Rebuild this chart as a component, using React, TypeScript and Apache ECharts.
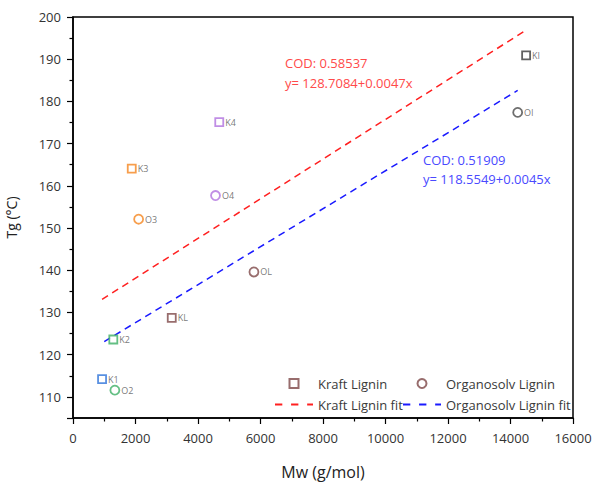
import React, { useEffect, useRef } from "react";
import * as echarts from "echarts";

// Kraft lignin samples
const kraftNames = ["K1", "K2", "K3", "K4", "KL", "KI"];
const kraftMw = [930, 1290, 1880, 4680, 3160, 14500];
const kraftTg = [114.2, 123.6, 164.1, 175.1, 128.7, 190.9];
const kraftColors = ["#2f74d9", "#3daf65", "#f5861f", "#b072df", "#7e4848", "#3a3a3a"];

// Organosolv lignin samples
const orgNames = ["O2", "O3", "O4", "OL", "OI"];
const orgMw = [1340, 2100, 4560, 5790, 14230];
const orgTg = [111.6, 152.1, 157.7, 139.6, 177.4];
const orgColors = ["#3daf65", "#f5861f", "#b072df", "#7e4848", "#4a4a4a"];

// Fit lines (end points)
const kraftFitMw = [930, 14500];
const kraftFitTg = [133.1, 196.9];
const orgFitMw = [1000, 14230];
const orgFitTg = [123.1, 182.6];

const yMajorTicks = [105, 110, 120, 130, 140, 150, 160, 170, 180, 190, 200];
const yLabels = [110, 120, 130, 140, 150, 160, 170, 180, 190, 200];
const yMinorTicks = [115, 125, 135, 145, 155, 165, 175, 185, 195];

const FONT = "Open Sans";

export default function App() {
  const ref = useRef<HTMLDivElement>(null);
  useEffect(() => {
    document.body.style.margin = "0";
    if (!ref.current) return;
    const chart = echarts.init(ref.current, undefined, { renderer: "svg" });
    const labelStyle = {
      show: true,
      position: "right",
      distance: 1,
      formatter: "{b}",
      fontSize: 9,
      color: "#555",
      fontFamily: FONT,
    };
    const squareIcon = "path://M0,0H10V10H0Z";
    const dashIcon = "path://M0,0h7.5v2h-7.5zM16.5,0h7.5v2h-7.5zM33,0h6v2h-6z";
    chart.setOption({
      animation: false,
      grid: {
        left: 73,
        right: 24,
        top: 17,
        bottom: 66,
        show: true,
        borderColor: "#000",
        borderWidth: 1.5,
        outerBoundsMode: "none",
        containLabel: false,
      },
      xAxis: {
        type: "value",
        min: 0,
        max: 16000,
        interval: 2000,
        name: "Mw (g/mol)",
        nameLocation: "middle",
        nameGap: 46,
        nameTextStyle: { fontSize: 16, color: "#222", fontFamily: FONT },
        axisLine: { show: true, lineStyle: { color: "#000", width: 1.5 } },
        axisTick: { show: true, length: 6, lineStyle: { color: "#000", width: 1.2 } },
        minorTick: { show: true, splitNumber: 2, length: 3.5, lineStyle: { color: "#000", width: 1.2 } },
        axisLabel: {
          fontSize: 13,
          color: "#333",
          margin: 13,
          fontFamily: FONT,
          formatter: (v: number) => String(v),
        },
        splitLine: { show: false },
      },
      yAxis: [
        {
          type: "value",
          min: 105,
          max: 200,
          name: "Tg (°C)",
          nameLocation: "middle",
          nameGap: 55,
          nameTextStyle: { fontSize: 14, color: "#222", fontFamily: FONT },
          axisLine: { show: true, lineStyle: { color: "#000", width: 1.5 } },
          axisTick: { show: true, length: 6, customValues: yMajorTicks, lineStyle: { color: "#000", width: 1.2 } },
          axisLabel: { fontSize: 13, color: "#333", margin: 12, customValues: yLabels, fontFamily: FONT },
          splitLine: { show: false },
        },
        {
          type: "value",
          min: 105,
          max: 200,
          position: "left",
          axisLine: { show: false },
          axisTick: { show: true, length: 3.5, customValues: yMinorTicks, lineStyle: { color: "#000", width: 1.2 } },
          axisLabel: { show: false },
          splitLine: { show: false },
        },
      ],
      legend: [
        {
          left: 275,
          top: 377,
          orient: "vertical",
          padding: 0,
          itemWidth: 38,
          itemHeight: 9,
          itemGap: 8,
          textStyle: { fontSize: 13, color: "#3a3a3a", fontFamily: FONT },
          data: [
            { name: "Kraft Lignin", icon: squareIcon },
            { name: "Kraft Lignin fit", icon: dashIcon },
          ],
        },
        {
          left: 403,
          top: 377,
          orient: "vertical",
          padding: 0,
          itemWidth: 38,
          itemHeight: 9,
          itemGap: 8,
          textStyle: { fontSize: 13, color: "#3a3a3a", fontFamily: FONT },
          data: [
            { name: "Organosolv Lignin" },
            { name: "Organosolv Lignin fit", icon: dashIcon },
          ],
        },
      ],
      graphic: [
        {
          type: "text",
          left: 285,
          top: 53,
          style: {
            text: "COD: 0.58537\ny= 128.7084+0.0047x",
            fill: "#ff4a4a",
            fontSize: 13,
            lineHeight: 20,
            fontFamily: FONT,
          },
        },
        {
          type: "text",
          left: 423,
          top: 150,
          style: {
            text: "COD: 0.51909\ny= 118.5549+0.0045x",
            fill: "#4a4aff",
            fontSize: 13,
            lineHeight: 19,
            fontFamily: FONT,
          },
        },
      ],
      series: [
        {
          name: "Kraft Lignin fit",
          type: "line",
          symbol: "none",
          data: kraftFitMw.map((x, i) => [x, kraftFitTg[i]]),
          lineStyle: { color: "#ff2020", width: 1.5, type: [7, 5] },
          itemStyle: { color: "#ff2020" },
          z: 1,
        },
        {
          name: "Organosolv Lignin fit",
          type: "line",
          symbol: "none",
          data: orgFitMw.map((x, i) => [x, orgFitTg[i]]),
          lineStyle: { color: "#1a1aff", width: 1.5, type: [7, 5] },
          itemStyle: { color: "#1a1aff" },
          z: 1,
        },
        {
          name: "Kraft Lignin",
          type: "scatter",
          symbol: "rect",
          symbolSize: 8,
          itemStyle: { color: "#fff", borderColor: "#7e4848", borderWidth: 1.8 },
          label: labelStyle,
          data: kraftNames.map((n, i) => ({
            name: n,
            value: [kraftMw[i], kraftTg[i]],
            itemStyle: { borderColor: kraftColors[i] },
          })),
          z: 3,
        },
        {
          name: "Organosolv Lignin",
          type: "scatter",
          symbol: "circle",
          symbolSize: 9,
          itemStyle: { color: "#fff", borderColor: "#7e4848", borderWidth: 1.8 },
          label: labelStyle,
          data: orgNames.map((n, i) => ({
            name: n,
            value: [orgMw[i], orgTg[i]],
            itemStyle: { borderColor: orgColors[i] },
          })),
          z: 3,
        },
      ],
    });
    return () => chart.dispose();
  }, []);
  return <div ref={ref} style={{ width: 597, height: 484 }} />;
}
